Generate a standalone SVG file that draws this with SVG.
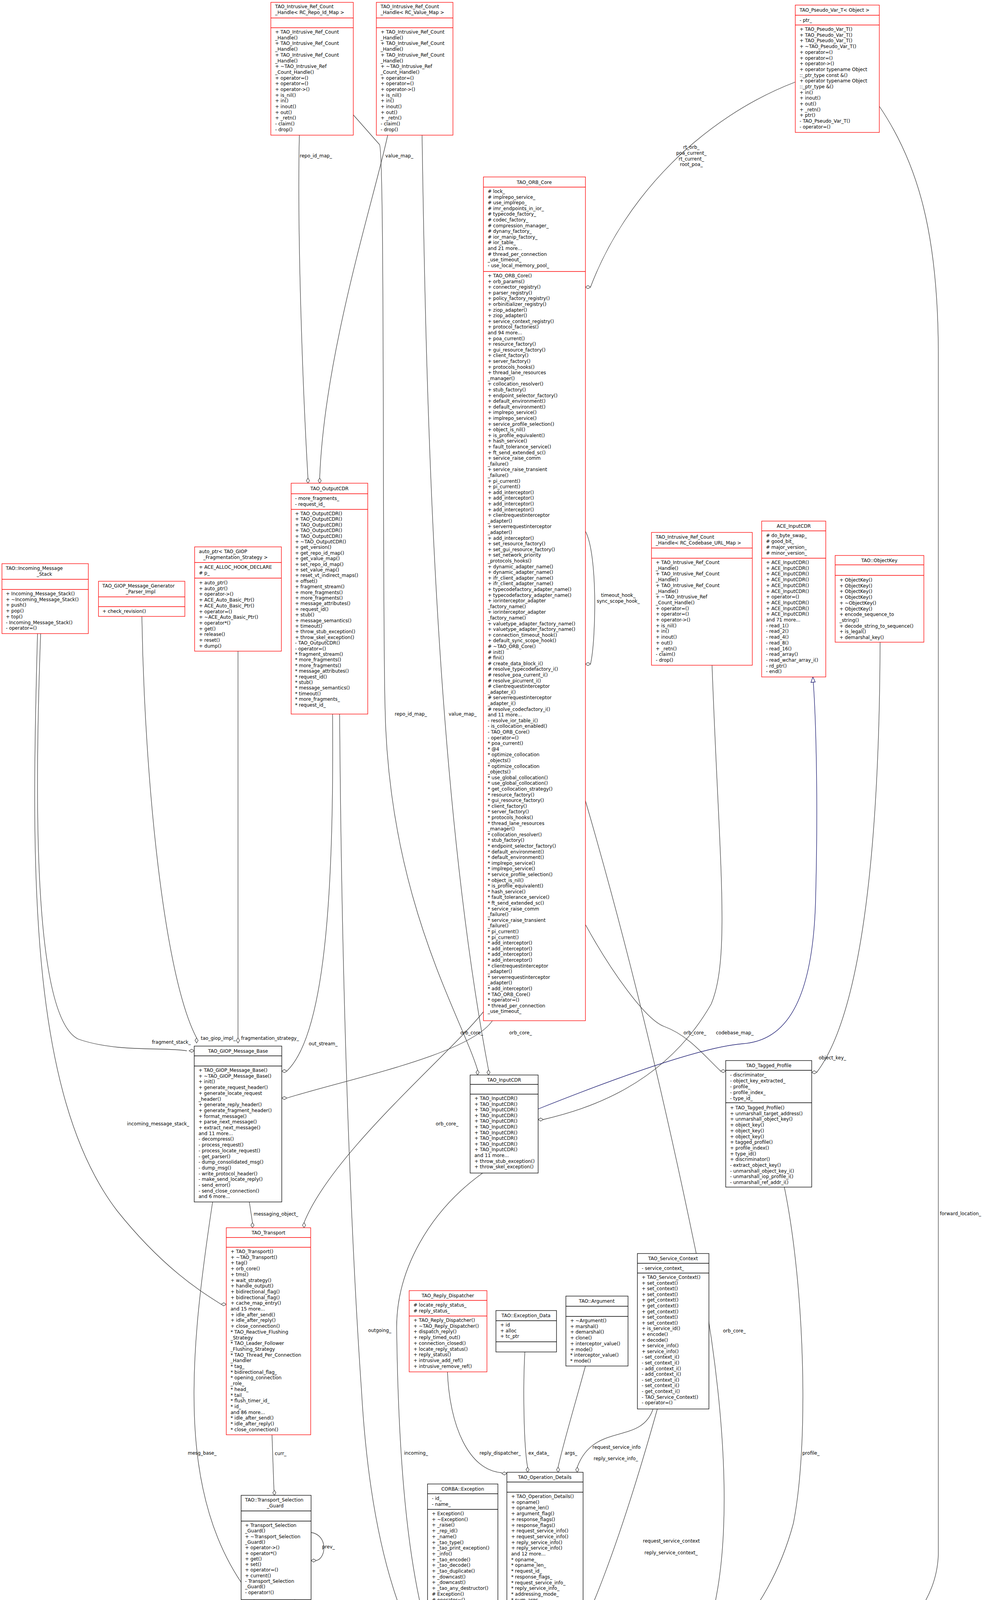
<svg xmlns="http://www.w3.org/2000/svg" width="2523" height="4757" viewBox="0 0 2523 4757">
<style>
text{font-family:"DejaVu Sans","Liberation Sans",sans-serif;font-size:12px;fill:#000}
.r{fill:#fff;stroke:#ff0000;stroke-width:1.3}
.b{fill:#fff;stroke:#000;stroke-width:1.3}
.g{fill:#bfbfbf;stroke:#000;stroke-width:1.3}
.sr{stroke:#ff0000;stroke-width:1.3}
.sb{stroke:#000;stroke-width:1.3}
.e{fill:none;stroke:#404040;stroke-width:1.3}
.d{fill:#fff;stroke:#404040;stroke-width:1.3}
.i{fill:none;stroke:#191970;stroke-width:1.3}
.m{text-anchor:middle}
.end{text-anchor:end}
</style>
<g id="edges">
<path class="e" d="M766,346 C760,600 775,1000 788,1224"/><polygon class="d" points="788,1237 784,1230.5 788,1224 792,1230.5"/>
<path class="e" d="M992,346 C960,500 830,900 818,1224"/><polygon class="d" points="818,1237 814,1230.5 818,1224 822,1230.5"/>
<path class="e" d="M904,294 L971,370 C985,390 978,1500 985,1800 C992,2300 1180,2600 1222,2739"/><polygon class="d" points="1222,2752 1218,2745.5 1222,2739 1226,2745.5"/>
<path class="e" d="M1080,346 C1090,1000 1110,2000 1250,2739"/><polygon class="d" points="1250,2752 1246,2745.5 1250,2739 1254,2745.5"/>
<path class="e" d="M104,1622 C90,2000 80,2600 200,2660 C300,2695 420,2680 478,2690"/><polygon class="d" points="497,2690 490.5,2686 484,2690 490.5,2694"/>
<path class="e" d="M363,1578 C370,2000 420,2500 503,2657"/><polygon class="d" points="503,2670 499,2663.5 503,2657 507,2663.5"/>
<path class="e" d="M609,1667 L609,2657"/><polygon class="d" points="609,2670 605,2663.5 609,2657 613,2663.5"/>
<path class="e" d="M851,1828 C855,2300 830,2650 734,2742"/><polygon class="d" points="721,2742 727.5,2738 734,2742 727.5,2746"/>
<path class="e" d="M1260,2613 C1200,2700 900,2760 734,2811"/><polygon class="d" points="721,2811 727.5,2807 734,2811 727.5,2815"/>
<path class="e" d="M638,3077 L646,3130"/><polygon class="d" points="646,3143 642,3136.5 646,3130 650,3136.5"/>
<path class="e" d="M1237,2590 C1150,2700 850,2950 778,3130"/><polygon class="d" points="778,3143 774,3136.5 778,3130 782,3136.5"/>
<path class="e" d="M544,3077 C480,3500 440,3900 700,4150 C900,4300 1100,4430 1166,4465"/><polygon class="d" points="1179,4465 1172.5,4461 1166,4465 1172.5,4469"/>
<path class="e" d="M96,1622 C80,2200 70,2800 300,3100 C420,3250 520,3310 566,3339"/><polygon class="d" points="579,3339 572.5,3335 566,3339 572.5,3343"/>
<path class="e" d="M1235,3003 C1100,3100 1014,3250 1015,3400 C1020,3800 1050,4150 1166,4375"/><polygon class="d" points="1179,4375 1172.5,4371 1166,4375 1172.5,4379"/>
<path class="e" d="M869,1828 C875,2600 900,3200 925,3560 C950,4000 1050,4250 1166,4342"/><polygon class="d" points="1179,4342 1172.5,4338 1166,4342 1172.5,4346"/>
<path class="e" d="M754,4095 C800,4200 1000,4350 1166,4439"/><polygon class="d" points="1179,4439 1172.5,4435 1166,4439 1172.5,4443"/>
<path class="e" d="M696,3673 L701,3815"/><polygon class="d" points="702,3828 698,3821.5 702,3815 706,3821.5"/>
<path class="e" d="M796,3923 C840,3930 835,3990 809,3995"/><polygon class="d" points="796,3995 802.5,3991 809,3995 802.5,3999"/>
<path class="e" d="M1203,4124 L1215,4207"/><polygon class="d" points="1216,4220 1212,4213.5 1216,4207 1220,4213.5"/>
<path class="e" d="M1351,4153 L1337,4207"/><polygon class="d" points="1337,4220 1333,4213.5 1337,4207 1341,4213.5"/>
<path class="e" d="M1145,3512 C1150,3650 1200,3765 1284,3770"/><polygon class="d" points="1297,3772 1290.5,3768 1284,3772 1290.5,3776"/>
<path class="e" d="M1343,3461 C1338,3550 1340,3700 1350,3756"/><polygon class="d" points="1350,3769 1346,3762.5 1350,3756 1354,3762.5"/>
<path class="e" d="M1498,3497 C1470,3600 1440,3700 1428,3756"/><polygon class="d" points="1428,3769 1424,3762.5 1428,3756 1432,3762.5"/>
<path class="e" d="M1671,3607 C1640,3700 1520,3640 1477,3756"/><polygon class="d" points="1477,3769 1473,3762.5 1477,3756 1481,3762.5"/>
<path class="e" d="M1682,3607 C1600,3900 1500,4200 1387,4352"/><polygon class="d" points="1374,4352 1380.5,4348 1387,4352 1380.5,4356"/>
<path class="e" d="M1498,2050 C1600,2400 1700,2800 1800,3300 C1870,3700 1900,4200 1700,4350 C1550,4420 1420,4450 1387,4452"/><polygon class="d" points="1374,4452 1380.5,4448 1387,4452 1380.5,4456"/>
<path class="e" d="M2007,3039 C2060,3300 2070,3700 2030,3900 C1950,4200 1700,4400 1387,4465"/><polygon class="d" points="1374,4465 1380.5,4461 1387,4465 1380.5,4469"/>
<path class="e" d="M2250,272 C2350,420 2400,600 2401,900 L2401,3980 C2390,4300 1800,4450 1387,4482"/><polygon class="d" points="1374,4482 1380.5,4478 1387,4482 1380.5,4486"/>
<path class="e" d="M2035,210 C1800,300 1600,500 1511,735"/><polygon class="d" points="1498,735 1504.5,731 1511,735 1504.5,739"/>
<path class="e" d="M1498,1360 C1530,1420 1525,1640 1511,1700"/><polygon class="d" points="1498,1700 1504.5,1696 1511,1700 1504.5,1704"/>
<path class="e" d="M1498,2367 C1560,2480 1650,2610 1700,2628 C1760,2650 1800,2700 1844,2742"/><polygon class="d" points="1857,2742 1850.5,2738 1844,2742 1850.5,2746"/>
<path class="e" d="M1822,1703 C1840,2200 1870,2450 1820,2570 C1700,2780 1500,2840 1390,2866"/><polygon class="d" points="1377,2866 1383.5,2862 1390,2866 1383.5,2870"/>
<path class="e" d="M2252,1644 C2250,2200 2200,2600 2090,2745"/><polygon class="d" points="2077,2745 2083.5,2741 2090,2745 2083.5,2749"/>
<path class="i" d="M1377,2839 C1600,2750 1800,2680 1900,2672 C1990,2665 2080,2600 2087,2300 C2095,2000 2085,1800 2081,1746"/><polygon fill="#fff" stroke="#191970" stroke-width="1.3" points="2080,1733 2075,1747 2086,1746"/>
<text x="767" y="403">repo_id_map_</text>
<text x="986" y="403">value_map_</text>
<text x="1010" y="1832">repo_id_map_</text>
<text x="1148" y="1832">value_map_</text>
<text class="end" x="488" y="2672">fragment_stack_</text>
<text class="end" x="603" y="2662">tao_giop_impl_</text>
<text x="617" y="2662">fragmentation_strategy_</text>
<text x="790" y="2676">out_stream_</text>
<text class="end" x="1236" y="2648">orb_core_</text>
<text x="1303" y="2648">orb_core_</text>
<text x="1749" y="2648">orb_core_</text>
<text x="1832" y="2648">codebase_map_</text>
<text x="2095" y="2712">object_key_</text>
<text class="m" x="1582" y="1528">timeout_hook_</text>
<text class="m" x="1582" y="1543">sync_scope_hook_</text>
<text class="m" x="1769" y="381">rt_orb_</text>
<text class="m" x="1769" y="396">poa_current_</text>
<text class="m" x="1769" y="411">rt_current_</text>
<text class="m" x="1769" y="425">root_poa_</text>
<text x="649" y="3112">messaging_object_</text>
<text class="end" x="484" y="2881">incoming_message_stack_</text>
<text x="1115" y="2881">orb_core_</text>
<text x="942" y="3410">outgoing_</text>
<text class="end" x="554" y="3724">mesg_base_</text>
<text x="1034" y="3724">incoming_</text>
<text x="703" y="3725">curr_</text>
<text x="824" y="3964">prev_</text>
<text x="820" y="4189">transport_</text>
<text x="1227" y="3724">reply_dispatcher_</text>
<text x="1352" y="3724">ex_data_</text>
<text x="1445" y="3724">args_</text>
<text x="1516" y="3709">request_service_info</text>
<text x="1519" y="3738">reply_service_info_</text>
<text x="1645" y="3949">request_service_context</text>
<text x="1649" y="3979">reply_service_context_</text>
<text x="1850" y="3411">orb_core_</text>
<text x="2053" y="3724">profile_</text>
<text x="2405" y="3111">forward_location_</text>
<text x="1217" y="4189">caught_exception_</text>
<text x="1348" y="4189">operation_details_</text>
</g>
<g id="repo">
<rect class="r" x="693" y="6" width="211" height="340"/><line class="sr" x1="693" y1="46" x2="904" y2="46"/><line class="sr" x1="693" y1="71" x2="904" y2="71"/>
<text x="704" y="21">TAO_Intrusive_Ref_Count<tspan x="704" dy="15">_Handle&lt; RC_Repo_Id_Map &gt;</tspan></text>
<text x="704" y="86">+ TAO_Intrusive_Ref_Count<tspan x="704" dy="14.7">_Handle()</tspan><tspan x="704" dy="14.7">+ TAO_Intrusive_Ref_Count</tspan><tspan x="704" dy="14.7">_Handle()</tspan><tspan x="704" dy="14.7">+ TAO_Intrusive_Ref_Count</tspan><tspan x="704" dy="14.7">_Handle()</tspan><tspan x="704" dy="14.7">+ ~TAO_Intrusive_Ref</tspan><tspan x="704" dy="14.7">_Count_Handle()</tspan><tspan x="704" dy="14.7">+ operator=()</tspan><tspan x="704" dy="14.7">+ operator=()</tspan><tspan x="704" dy="14.7">+ operator-&gt;()</tspan><tspan x="704" dy="14.7">+ is_nil()</tspan><tspan x="704" dy="14.7">+ in()</tspan><tspan x="704" dy="14.7">+ inout()</tspan><tspan x="704" dy="14.7">+ out()</tspan><tspan x="704" dy="14.7">+ _retn()</tspan><tspan x="704" dy="14.7">- claim()</tspan><tspan x="704" dy="14.7">- drop()</tspan></text>
</g>
<g id="value">
<rect class="r" x="963" y="6" width="196" height="340"/><line class="sr" x1="963" y1="46" x2="1159" y2="46"/><line class="sr" x1="963" y1="71" x2="1159" y2="71"/>
<text x="974" y="21">TAO_Intrusive_Ref_Count<tspan x="974" dy="15">_Handle&lt; RC_Value_Map &gt;</tspan></text>
<text x="974" y="86">+ TAO_Intrusive_Ref_Count<tspan x="974" dy="14.7">_Handle()</tspan><tspan x="974" dy="14.7">+ TAO_Intrusive_Ref_Count</tspan><tspan x="974" dy="14.7">_Handle()</tspan><tspan x="974" dy="14.7">+ TAO_Intrusive_Ref_Count</tspan><tspan x="974" dy="14.7">_Handle()</tspan><tspan x="974" dy="14.7">+ ~TAO_Intrusive_Ref</tspan><tspan x="974" dy="14.7">_Count_Handle()</tspan><tspan x="974" dy="14.7">+ operator=()</tspan><tspan x="974" dy="14.7">+ operator=()</tspan><tspan x="974" dy="14.7">+ operator-&gt;()</tspan><tspan x="974" dy="14.7">+ is_nil()</tspan><tspan x="974" dy="14.7">+ in()</tspan><tspan x="974" dy="14.7">+ inout()</tspan><tspan x="974" dy="14.7">+ out()</tspan><tspan x="974" dy="14.7">+ _retn()</tspan><tspan x="974" dy="14.7">- claim()</tspan><tspan x="974" dy="14.7">- drop()</tspan></text>
</g>
<g id="pseudo">
<rect class="r" x="2035" y="13" width="215" height="326"/><line class="sr" x1="2035" y1="39" x2="2250" y2="39"/><line class="sr" x1="2035" y1="64" x2="2250" y2="64"/>
<text x="2046" y="30">TAO_Pseudo_Var_T&lt; Object &gt;</text>
<text x="2046" y="56">- ptr_</text>
<text x="2046" y="79">+ TAO_Pseudo_Var_T()<tspan x="2046" dy="14.7">+ TAO_Pseudo_Var_T()</tspan><tspan x="2046" dy="14.7">+ TAO_Pseudo_Var_T()</tspan><tspan x="2046" dy="14.7">+ ~TAO_Pseudo_Var_T()</tspan><tspan x="2046" dy="14.7">+ operator=()</tspan><tspan x="2046" dy="14.7">+ operator=()</tspan><tspan x="2046" dy="14.7">+ operator-&gt;()</tspan><tspan x="2046" dy="14.7">+ operator typename Object</tspan><tspan x="2046" dy="14.7">::_ptr_type const &amp;()</tspan><tspan x="2046" dy="14.7">+ operator typename Object</tspan><tspan x="2046" dy="14.7">::_ptr_type &amp;()</tspan><tspan x="2046" dy="14.7">+ in()</tspan><tspan x="2046" dy="14.7">+ inout()</tspan><tspan x="2046" dy="14.7">+ out()</tspan><tspan x="2046" dy="14.7">+ _retn()</tspan><tspan x="2046" dy="14.7">+ ptr()</tspan><tspan x="2046" dy="14.7">- TAO_Pseudo_Var_T()</tspan><tspan x="2046" dy="14.7">- operator=()</tspan></text>
</g>
<g id="orbcore">
<rect class="r" x="1237" y="453" width="261" height="2160"/><line class="sr" x1="1237" y1="479" x2="1498" y2="479"/><line class="sr" x1="1237" y1="695" x2="1498" y2="695"/>
<text class="m" x="1367" y="471">TAO_ORB_Core</text>
<text x="1248" y="494"># lock_<tspan x="1248" dy="14.6"># implrepo_service_</tspan><tspan x="1248" dy="14.6"># use_implrepo_</tspan><tspan x="1248" dy="14.6"># imr_endpoints_in_ior_</tspan><tspan x="1248" dy="14.6"># typecode_factory_</tspan><tspan x="1248" dy="14.6"># codec_factory_</tspan><tspan x="1248" dy="14.6"># compression_manager_</tspan><tspan x="1248" dy="14.6"># dynany_factory_</tspan><tspan x="1248" dy="14.6"># ior_manip_factory_</tspan><tspan x="1248" dy="14.6"># ior_table_</tspan><tspan x="1248" dy="14.6">and 21 more...</tspan><tspan x="1248" dy="14.6"># thread_per_connection</tspan><tspan x="1248" dy="14.6">_use_timeout_</tspan><tspan x="1248" dy="14.6">- use_local_memory_pool_</tspan></text>
<text x="1248" y="710">+ TAO_ORB_Core()<tspan x="1248" dy="14.6">+ orb_params()</tspan><tspan x="1248" dy="14.6">+ connector_registry()</tspan><tspan x="1248" dy="14.6">+ parser_registry()</tspan><tspan x="1248" dy="14.6">+ policy_factory_registry()</tspan><tspan x="1248" dy="14.6">+ orbinitializer_registry()</tspan><tspan x="1248" dy="14.6">+ ziop_adapter()</tspan><tspan x="1248" dy="14.6">+ ziop_adapter()</tspan><tspan x="1248" dy="14.6">+ service_context_registry()</tspan><tspan x="1248" dy="14.6">+ protocol_factories()</tspan><tspan x="1248" dy="14.6">and 94 more...</tspan><tspan x="1248" dy="14.6">+ poa_current()</tspan><tspan x="1248" dy="14.6">+ resource_factory()</tspan><tspan x="1248" dy="14.6">+ gui_resource_factory()</tspan><tspan x="1248" dy="14.6">+ client_factory()</tspan><tspan x="1248" dy="14.6">+ server_factory()</tspan><tspan x="1248" dy="14.6">+ protocols_hooks()</tspan><tspan x="1248" dy="14.6">+ thread_lane_resources</tspan><tspan x="1248" dy="14.6">_manager()</tspan><tspan x="1248" dy="14.6">+ collocation_resolver()</tspan><tspan x="1248" dy="14.6">+ stub_factory()</tspan><tspan x="1248" dy="14.6">+ endpoint_selector_factory()</tspan><tspan x="1248" dy="14.6">+ default_environment()</tspan><tspan x="1248" dy="14.6">+ default_environment()</tspan><tspan x="1248" dy="14.6">+ implrepo_service()</tspan><tspan x="1248" dy="14.6">+ implrepo_service()</tspan><tspan x="1248" dy="14.6">+ service_profile_selection()</tspan><tspan x="1248" dy="14.6">+ object_is_nil()</tspan><tspan x="1248" dy="14.6">+ is_profile_equivalent()</tspan><tspan x="1248" dy="14.6">+ hash_service()</tspan><tspan x="1248" dy="14.6">+ fault_tolerance_service()</tspan><tspan x="1248" dy="14.6">+ ft_send_extended_sc()</tspan><tspan x="1248" dy="14.6">+ service_raise_comm</tspan><tspan x="1248" dy="14.6">_failure()</tspan><tspan x="1248" dy="14.6">+ service_raise_transient</tspan><tspan x="1248" dy="14.6">_failure()</tspan><tspan x="1248" dy="14.6">+ pi_current()</tspan><tspan x="1248" dy="14.6">+ pi_current()</tspan><tspan x="1248" dy="14.6">+ add_interceptor()</tspan><tspan x="1248" dy="14.6">+ add_interceptor()</tspan><tspan x="1248" dy="14.6">+ add_interceptor()</tspan><tspan x="1248" dy="14.6">+ add_interceptor()</tspan><tspan x="1248" dy="14.6">+ clientrequestinterceptor</tspan><tspan x="1248" dy="14.6">_adapter()</tspan><tspan x="1248" dy="14.6">+ serverrequestinterceptor</tspan><tspan x="1248" dy="14.6">_adapter()</tspan><tspan x="1248" dy="14.6">+ add_interceptor()</tspan><tspan x="1248" dy="14.6">+ set_resource_factory()</tspan><tspan x="1248" dy="14.6">+ set_gui_resource_factory()</tspan><tspan x="1248" dy="14.6">+ set_network_priority</tspan><tspan x="1248" dy="14.6">_protocols_hooks()</tspan><tspan x="1248" dy="14.6">+ dynamic_adapter_name()</tspan><tspan x="1248" dy="14.6">+ dynamic_adapter_name()</tspan><tspan x="1248" dy="14.6">+ ifr_client_adapter_name()</tspan><tspan x="1248" dy="14.6">+ ifr_client_adapter_name()</tspan><tspan x="1248" dy="14.6">+ typecodefactory_adapter_name()</tspan><tspan x="1248" dy="14.6">+ typecodefactory_adapter_name()</tspan><tspan x="1248" dy="14.6">+ iorinterceptor_adapter</tspan><tspan x="1248" dy="14.6">_factory_name()</tspan><tspan x="1248" dy="14.6">+ iorinterceptor_adapter</tspan><tspan x="1248" dy="14.6">_factory_name()</tspan><tspan x="1248" dy="14.6">+ valuetype_adapter_factory_name()</tspan><tspan x="1248" dy="14.6">+ valuetype_adapter_factory_name()</tspan><tspan x="1248" dy="14.6">+ connection_timeout_hook()</tspan><tspan x="1248" dy="14.6">+ default_sync_scope_hook()</tspan><tspan x="1248" dy="14.6"># ~TAO_ORB_Core()</tspan><tspan x="1248" dy="14.6"># init()</tspan><tspan x="1248" dy="14.6"># fini()</tspan><tspan x="1248" dy="14.6"># create_data_block_i()</tspan><tspan x="1248" dy="14.6"># resolve_typecodefactory_i()</tspan><tspan x="1248" dy="14.6"># resolve_poa_current_i()</tspan><tspan x="1248" dy="14.6"># resolve_picurrent_i()</tspan><tspan x="1248" dy="14.6"># clientrequestinterceptor</tspan><tspan x="1248" dy="14.6">_adapter_i()</tspan><tspan x="1248" dy="14.6"># serverrequestinterceptor</tspan><tspan x="1248" dy="14.6">_adapter_i()</tspan><tspan x="1248" dy="14.6"># resolve_codecfactory_i()</tspan><tspan x="1248" dy="14.6">and 11 more...</tspan><tspan x="1248" dy="14.6">- resolve_ior_table_i()</tspan><tspan x="1248" dy="14.6">- is_collocation_enabled()</tspan><tspan x="1248" dy="14.6">- TAO_ORB_Core()</tspan><tspan x="1248" dy="14.6">- operator=()</tspan><tspan x="1248" dy="14.6">* poa_current()</tspan><tspan x="1248" dy="14.6">* @4</tspan><tspan x="1248" dy="14.6">* optimize_collocation</tspan><tspan x="1248" dy="14.6">_objects()</tspan><tspan x="1248" dy="14.6">* optimize_collocation</tspan><tspan x="1248" dy="14.6">_objects()</tspan><tspan x="1248" dy="14.6">* use_global_collocation()</tspan><tspan x="1248" dy="14.6">* use_global_collocation()</tspan><tspan x="1248" dy="14.6">* get_collocation_strategy()</tspan><tspan x="1248" dy="14.6">* resource_factory()</tspan><tspan x="1248" dy="14.6">* gui_resource_factory()</tspan><tspan x="1248" dy="14.6">* client_factory()</tspan><tspan x="1248" dy="14.6">* server_factory()</tspan><tspan x="1248" dy="14.6">* protocols_hooks()</tspan><tspan x="1248" dy="14.6">* thread_lane_resources</tspan><tspan x="1248" dy="14.6">_manager()</tspan><tspan x="1248" dy="14.6">* collocation_resolver()</tspan><tspan x="1248" dy="14.6">* stub_factory()</tspan><tspan x="1248" dy="14.6">* endpoint_selector_factory()</tspan><tspan x="1248" dy="14.6">* default_environment()</tspan><tspan x="1248" dy="14.6">* default_environment()</tspan><tspan x="1248" dy="14.6">* implrepo_service()</tspan><tspan x="1248" dy="14.6">* implrepo_service()</tspan><tspan x="1248" dy="14.6">* service_profile_selection()</tspan><tspan x="1248" dy="14.6">* object_is_nil()</tspan><tspan x="1248" dy="14.6">* is_profile_equivalent()</tspan><tspan x="1248" dy="14.6">* hash_service()</tspan><tspan x="1248" dy="14.6">* fault_tolerance_service()</tspan><tspan x="1248" dy="14.6">* ft_send_extended_sc()</tspan><tspan x="1248" dy="14.6">* service_raise_comm</tspan><tspan x="1248" dy="14.6">_failure()</tspan><tspan x="1248" dy="14.6">* service_raise_transient</tspan><tspan x="1248" dy="14.6">_failure()</tspan><tspan x="1248" dy="14.6">* pi_current()</tspan><tspan x="1248" dy="14.6">* pi_current()</tspan><tspan x="1248" dy="14.6">* add_interceptor()</tspan><tspan x="1248" dy="14.6">* add_interceptor()</tspan><tspan x="1248" dy="14.6">* add_interceptor()</tspan><tspan x="1248" dy="14.6">* add_interceptor()</tspan><tspan x="1248" dy="14.6">* clientrequestinterceptor</tspan><tspan x="1248" dy="14.6">_adapter()</tspan><tspan x="1248" dy="14.6">* serverrequestinterceptor</tspan><tspan x="1248" dy="14.6">_adapter()</tspan><tspan x="1248" dy="14.6">* add_interceptor()</tspan><tspan x="1248" dy="14.6">* TAO_ORB_Core()</tspan><tspan x="1248" dy="14.6">* operator=()</tspan><tspan x="1248" dy="14.6">* thread_per_connection</tspan><tspan x="1248" dy="14.6">_use_timeout_</tspan></text>
</g>
<g id="incomingstack">
<rect class="r" x="5" y="1443" width="221" height="179"/><line class="sr" x1="5" y1="1483" x2="226" y2="1483"/><line class="sr" x1="5" y1="1509" x2="226" y2="1509"/>
<text x="15" y="1459">TAO::Incoming_Message<tspan x="94" dy="15">_Stack</tspan></text>
<text x="15" y="1524">+ Incoming_Message_Stack()<tspan x="15" dy="14.7">+ ~Incoming_Message_Stack()</tspan><tspan x="15" dy="14.7">+ push()</tspan><tspan x="15" dy="14.7">+ pop()</tspan><tspan x="15" dy="14.7">+ top()</tspan><tspan x="15" dy="14.7">- Incoming_Message_Stack()</tspan><tspan x="15" dy="14.7">- operator=()</tspan></text>
</g>
<g id="parserimpl">
<rect class="r" x="252" y="1488" width="221" height="90"/><line class="sr" x1="252" y1="1528" x2="473" y2="1528"/><line class="sr" x1="252" y1="1553" x2="473" y2="1553"/>
<text x="262" y="1504">TAO_GIOP_Message_Generator<tspan x="322" dy="15">_Parser_Impl</tspan></text>
<text x="262" y="1569">+ check_revision()</text>
</g>
<g id="autoptr">
<rect class="r" x="498" y="1400" width="222" height="267"/><line class="sr" x1="498" y1="1440" x2="720" y2="1440"/><line class="sr" x1="498" y1="1480" x2="720" y2="1480"/>
<text x="509" y="1416">auto_ptr&lt; TAO_GIOP<tspan x="520" dy="15">_Fragmentation_Strategy &gt;</tspan></text>
<text x="509" y="1456">+ ACE_ALLOC_HOOK_DECLARE<tspan x="509" dy="14.7"># p_</tspan></text>
<text x="509" y="1496">+ auto_ptr()<tspan x="509" dy="14.7">+ auto_ptr()</tspan><tspan x="509" dy="14.7">+ operator-&gt;()</tspan><tspan x="509" dy="14.7">+ ACE_Auto_Basic_Ptr()</tspan><tspan x="509" dy="14.7">+ ACE_Auto_Basic_Ptr()</tspan><tspan x="509" dy="14.7">+ operator=()</tspan><tspan x="509" dy="14.7">+ ~ACE_Auto_Basic_Ptr()</tspan><tspan x="509" dy="14.7">+ operator*()</tspan><tspan x="509" dy="14.7">+ get()</tspan><tspan x="509" dy="14.7">+ release()</tspan><tspan x="509" dy="14.7">+ reset()</tspan><tspan x="509" dy="14.7">+ dump()</tspan></text>
</g>
<g id="outputcdr">
<rect class="r" x="745" y="1237" width="196" height="591"/><line class="sr" x1="745" y1="1264" x2="941" y2="1264"/><line class="sr" x1="745" y1="1304" x2="941" y2="1304"/>
<text class="m" x="843" y="1255">TAO_OutputCDR</text>
<text x="755" y="1280">- more_fragments_<tspan x="755" dy="14.6">- request_id_</tspan></text>
<text x="755" y="1319">+ TAO_OutputCDR()<tspan x="755" dy="14.4">+ TAO_OutputCDR()</tspan><tspan x="755" dy="14.4">+ TAO_OutputCDR()</tspan><tspan x="755" dy="14.4">+ TAO_OutputCDR()</tspan><tspan x="755" dy="14.4">+ TAO_OutputCDR()</tspan><tspan x="755" dy="14.4">+ ~TAO_OutputCDR()</tspan><tspan x="755" dy="14.4">+ get_version()</tspan><tspan x="755" dy="14.4">+ get_repo_id_map()</tspan><tspan x="755" dy="14.4">+ get_value_map()</tspan><tspan x="755" dy="14.4">+ set_repo_id_map()</tspan><tspan x="755" dy="14.4">+ set_value_map()</tspan><tspan x="755" dy="14.4">+ reset_vt_indirect_maps()</tspan><tspan x="755" dy="14.4">+ offset()</tspan><tspan x="755" dy="14.4">+ fragment_stream()</tspan><tspan x="755" dy="14.4">+ more_fragments()</tspan><tspan x="755" dy="14.4">+ more_fragments()</tspan><tspan x="755" dy="14.4">+ message_attributes()</tspan><tspan x="755" dy="14.4">+ request_id()</tspan><tspan x="755" dy="14.4">+ stub()</tspan><tspan x="755" dy="14.4">+ message_semantics()</tspan><tspan x="755" dy="14.4">+ timeout()</tspan><tspan x="755" dy="14.4">+ throw_stub_exception()</tspan><tspan x="755" dy="14.4">+ throw_skel_exception()</tspan><tspan x="755" dy="14.4">- TAO_OutputCDR()</tspan><tspan x="755" dy="14.4">- operator=()</tspan><tspan x="755" dy="14.4">* fragment_stream()</tspan><tspan x="755" dy="14.4">* more_fragments()</tspan><tspan x="755" dy="14.4">* more_fragments()</tspan><tspan x="755" dy="14.4">* message_attributes()</tspan><tspan x="755" dy="14.4">* request_id()</tspan><tspan x="755" dy="14.4">* stub()</tspan><tspan x="755" dy="14.4">* message_semantics()</tspan><tspan x="755" dy="14.4">* timeout()</tspan><tspan x="755" dy="14.4">* more_fragments_</tspan><tspan x="755" dy="14.4">* request_id_</tspan></text>
</g>
<g id="codebase">
<rect class="r" x="1667" y="1363" width="258" height="340"/><line class="sr" x1="1667" y1="1403" x2="1925" y2="1403"/><line class="sr" x1="1667" y1="1429" x2="1925" y2="1429"/>
<text x="1678" y="1379">TAO_Intrusive_Ref_Count<tspan x="1678" dy="15">_Handle&lt; RC_Codebase_URL_Map &gt;</tspan></text>
<text x="1678" y="1444">+ TAO_Intrusive_Ref_Count<tspan x="1678" dy="14.7">_Handle()</tspan><tspan x="1678" dy="14.7">+ TAO_Intrusive_Ref_Count</tspan><tspan x="1678" dy="14.7">_Handle()</tspan><tspan x="1678" dy="14.7">+ TAO_Intrusive_Ref_Count</tspan><tspan x="1678" dy="14.7">_Handle()</tspan><tspan x="1678" dy="14.7">+ ~TAO_Intrusive_Ref</tspan><tspan x="1678" dy="14.7">_Count_Handle()</tspan><tspan x="1678" dy="14.7">+ operator=()</tspan><tspan x="1678" dy="14.7">+ operator=()</tspan><tspan x="1678" dy="14.7">+ operator-&gt;()</tspan><tspan x="1678" dy="14.7">+ is_nil()</tspan><tspan x="1678" dy="14.7">+ in()</tspan><tspan x="1678" dy="14.7">+ inout()</tspan><tspan x="1678" dy="14.7">+ out()</tspan><tspan x="1678" dy="14.7">+ _retn()</tspan><tspan x="1678" dy="14.7">- claim()</tspan><tspan x="1678" dy="14.7">- drop()</tspan></text>
</g>
<g id="aceinputcdr">
<rect class="r" x="1949" y="1334" width="164" height="399"/><line class="sr" x1="1949" y1="1359" x2="2113" y2="1359"/><line class="sr" x1="1949" y1="1429" x2="2113" y2="1429"/>
<text class="m" x="2031" y="1351">ACE_InputCDR</text>
<text x="1960" y="1375"># do_byte_swap_<tspan x="1960" dy="15"># good_bit_</tspan><tspan x="1960" dy="15"># major_version_</tspan><tspan x="1960" dy="15"># minor_version_</tspan></text>
<text x="1960" y="1444">+ ACE_InputCDR()<tspan x="1960" dy="14.7">+ ACE_InputCDR()</tspan><tspan x="1960" dy="14.7">+ ACE_InputCDR()</tspan><tspan x="1960" dy="14.7">+ ACE_InputCDR()</tspan><tspan x="1960" dy="14.7">+ ACE_InputCDR()</tspan><tspan x="1960" dy="14.7">+ ACE_InputCDR()</tspan><tspan x="1960" dy="14.7">+ operator=()</tspan><tspan x="1960" dy="14.7">+ ACE_InputCDR()</tspan><tspan x="1960" dy="14.7">+ ACE_InputCDR()</tspan><tspan x="1960" dy="14.7">+ ACE_InputCDR()</tspan><tspan x="1960" dy="14.7">and 71 more...</tspan><tspan x="1960" dy="14.7">- read_1()</tspan><tspan x="1960" dy="14.7">- read_2()</tspan><tspan x="1960" dy="14.7">- read_4()</tspan><tspan x="1960" dy="14.7">- read_8()</tspan><tspan x="1960" dy="14.7">- read_16()</tspan><tspan x="1960" dy="14.7">- read_array()</tspan><tspan x="1960" dy="14.7">- read_wchar_array_i()</tspan><tspan x="1960" dy="14.7">- rd_ptr()</tspan><tspan x="1960" dy="14.7">- end()</tspan></text>
</g>
<g id="objectkey">
<rect class="r" x="2137" y="1422" width="227" height="222"/><line class="sr" x1="2137" y1="1446" x2="2364" y2="1446"/><line class="sr" x1="2137" y1="1473" x2="2364" y2="1473"/>
<text class="m" x="2250" y="1439">TAO::ObjectKey</text>
<text x="2148" y="1489">+ ObjectKey()<tspan x="2148" dy="14.7">+ ObjectKey()</tspan><tspan x="2148" dy="14.7">+ ObjectKey()</tspan><tspan x="2148" dy="14.7">+ ObjectKey()</tspan><tspan x="2148" dy="14.7">+ ~ObjectKey()</tspan><tspan x="2148" dy="14.7">+ ObjectKey()</tspan><tspan x="2148" dy="14.7">+ encode_sequence_to</tspan><tspan x="2148" dy="14.7">_string()</tspan><tspan x="2148" dy="14.7">+ decode_string_to_sequence()</tspan><tspan x="2148" dy="14.7">+ is_legal()</tspan><tspan x="2148" dy="14.7">+ demarshal_key()</tspan></text>
</g>
<g id="giopbase">
<rect class="b" x="497" y="2678" width="224" height="399"/><line class="sb" x1="497" y1="2703" x2="721" y2="2703"/><line class="sb" x1="497" y1="2729" x2="721" y2="2729"/>
<text class="m" x="609" y="2695">TAO_GIOP_Message_Base</text>
<text x="508" y="2744">+ TAO_GIOP_Message_Base()<tspan x="508" dy="14.7">+ ~TAO_GIOP_Message_Base()</tspan><tspan x="508" dy="14.7">+ init()</tspan><tspan x="508" dy="14.7">+ generate_request_header()</tspan><tspan x="508" dy="14.7">+ generate_locate_request</tspan><tspan x="508" dy="14.7">_header()</tspan><tspan x="508" dy="14.7">+ generate_reply_header()</tspan><tspan x="508" dy="14.7">+ generate_fragment_header()</tspan><tspan x="508" dy="14.7">+ format_message()</tspan><tspan x="508" dy="14.7">+ parse_next_message()</tspan><tspan x="508" dy="14.7">+ extract_next_message()</tspan><tspan x="508" dy="14.7">and 11 more...</tspan><tspan x="508" dy="14.7">- decompress()</tspan><tspan x="508" dy="14.7">- process_request()</tspan><tspan x="508" dy="14.7">- process_locate_request()</tspan><tspan x="508" dy="14.7">- get_parser()</tspan><tspan x="508" dy="14.7">- dump_consolidated_msg()</tspan><tspan x="508" dy="14.7">- dump_msg()</tspan><tspan x="508" dy="14.7">- write_protocol_header()</tspan><tspan x="508" dy="14.7">- make_send_locate_reply()</tspan><tspan x="508" dy="14.7">- send_error()</tspan><tspan x="508" dy="14.7">- send_close_connection()</tspan><tspan x="508" dy="14.7">and 6 more...</tspan></text>
</g>
<g id="inputcdr">
<rect class="b" x="1203" y="2752" width="174" height="251"/><line class="sb" x1="1203" y1="2776" x2="1377" y2="2776"/><line class="sb" x1="1203" y1="2801" x2="1377" y2="2801"/>
<text class="m" x="1290" y="2769">TAO_InputCDR</text>
<text x="1214" y="2816">+ TAO_InputCDR()<tspan x="1214" dy="14.6">+ TAO_InputCDR()</tspan><tspan x="1214" dy="14.6">+ TAO_InputCDR()</tspan><tspan x="1214" dy="14.6">+ TAO_InputCDR()</tspan><tspan x="1214" dy="14.6">+ TAO_InputCDR()</tspan><tspan x="1214" dy="14.6">+ TAO_InputCDR()</tspan><tspan x="1214" dy="14.6">+ TAO_InputCDR()</tspan><tspan x="1214" dy="14.6">+ TAO_InputCDR()</tspan><tspan x="1214" dy="14.6">+ TAO_InputCDR()</tspan><tspan x="1214" dy="14.6">+ TAO_InputCDR()</tspan><tspan x="1214" dy="14.6">and 11 more...</tspan><tspan x="1214" dy="14.6">+ throw_stub_exception()</tspan><tspan x="1214" dy="14.6">+ throw_skel_exception()</tspan></text>
</g>
<g id="tagged">
<rect class="b" x="1857" y="2715" width="220" height="324"/><line class="sb" x1="1857" y1="2740" x2="2077" y2="2740"/><line class="sb" x1="1857" y1="2823" x2="2077" y2="2823"/>
<text class="m" x="1967" y="2732">TAO_Tagged_Profile</text>
<text x="1868" y="2756">- discriminator_<tspan x="1868" dy="15">- object_key_extracted_</tspan><tspan x="1868" dy="15">- profile_</tspan><tspan x="1868" dy="15">- profile_index_</tspan><tspan x="1868" dy="15">- type_id_</tspan></text>
<text x="1868" y="2840">+ TAO_Tagged_Profile()<tspan x="1868" dy="14.7">+ unmarshall_target_address()</tspan><tspan x="1868" dy="14.7">+ unmarshall_object_key()</tspan><tspan x="1868" dy="14.7">+ object_key()</tspan><tspan x="1868" dy="14.7">+ object_key()</tspan><tspan x="1868" dy="14.7">+ object_key()</tspan><tspan x="1868" dy="14.7">+ tagged_profile()</tspan><tspan x="1868" dy="14.7">+ profile_index()</tspan><tspan x="1868" dy="14.7">+ type_id()</tspan><tspan x="1868" dy="14.7">+ discriminator()</tspan><tspan x="1868" dy="14.7">- extract_object_key()</tspan><tspan x="1868" dy="14.7">- unmarshall_object_key_i()</tspan><tspan x="1868" dy="14.7">- unmarshall_iop_profile_i()</tspan><tspan x="1868" dy="14.7">- unmarshall_ref_addr_i()</tspan></text>
</g>
<g id="transport">
<rect class="r" x="579" y="3143" width="216" height="530"/><line class="sr" x1="579" y1="3168" x2="795" y2="3168"/><line class="sr" x1="579" y1="3193" x2="795" y2="3193"/>
<text class="m" x="687" y="3160">TAO_Transport</text>
<text x="590" y="3208">+ TAO_Transport()<tspan x="590" dy="14.7">+ ~TAO_Transport()</tspan><tspan x="590" dy="14.7">+ tag()</tspan><tspan x="590" dy="14.7">+ orb_core()</tspan><tspan x="590" dy="14.7">+ tms()</tspan><tspan x="590" dy="14.7">+ wait_strategy()</tspan><tspan x="590" dy="14.7">+ handle_output()</tspan><tspan x="590" dy="14.7">+ bidirectional_flag()</tspan><tspan x="590" dy="14.7">+ bidirectional_flag()</tspan><tspan x="590" dy="14.7">+ cache_map_entry()</tspan><tspan x="590" dy="14.7">and 15 more...</tspan><tspan x="590" dy="14.7">+ idle_after_send()</tspan><tspan x="590" dy="14.7">+ idle_after_reply()</tspan><tspan x="590" dy="14.7">+ close_connection()</tspan><tspan x="590" dy="14.7">* TAO_Reactive_Flushing</tspan><tspan x="590" dy="14.7">_Strategy</tspan><tspan x="590" dy="14.7">* TAO_Leader_Follower</tspan><tspan x="590" dy="14.7">_Flushing_Strategy</tspan><tspan x="590" dy="14.7">* TAO_Thread_Per_Connection</tspan><tspan x="590" dy="14.7">_Handler</tspan><tspan x="590" dy="14.7">* tag_</tspan><tspan x="590" dy="14.7">* bidirectional_flag_</tspan><tspan x="590" dy="14.7">* opening_connection</tspan><tspan x="590" dy="14.7">_role_</tspan><tspan x="590" dy="14.7">* head_</tspan><tspan x="590" dy="14.7">* tail_</tspan><tspan x="590" dy="14.7">* flush_timer_id_</tspan><tspan x="590" dy="14.7">* id_</tspan><tspan x="590" dy="14.7">and 86 more...</tspan><tspan x="590" dy="14.7">* idle_after_send()</tspan><tspan x="590" dy="14.7">* idle_after_reply()</tspan><tspan x="590" dy="14.7">* close_connection()</tspan></text>
</g>
<g id="guard">
<rect class="b" x="617" y="3828" width="179" height="267"/><line class="sb" x1="617" y1="3868" x2="796" y2="3868"/><line class="sb" x1="617" y1="3894" x2="796" y2="3894"/>
<text x="627" y="3844">TAO::Transport_Selection<tspan x="683" dy="15">_Guard</tspan></text>
<text x="627" y="3909">+ Transport_Selection<tspan x="627" dy="14.3">_Guard()</tspan><tspan x="627" dy="14.3">+ ~Transport_Selection</tspan><tspan x="627" dy="14.3">_Guard()</tspan><tspan x="627" dy="14.3">+ operator-&gt;()</tspan><tspan x="627" dy="14.3">+ operator*()</tspan><tspan x="627" dy="14.3">+ get()</tspan><tspan x="627" dy="14.3">+ set()</tspan><tspan x="627" dy="14.3">+ operator=()</tspan><tspan x="627" dy="14.3">+ current()</tspan><tspan x="627" dy="14.3">- Transport_Selection</tspan><tspan x="627" dy="14.3">_Guard()</tspan><tspan x="627" dy="14.3">- operator!()</tspan></text>
</g>
<g id="replydispatcher">
<rect class="r" x="1047" y="3304" width="199" height="208"/><line class="sr" x1="1047" y1="3329" x2="1246" y2="3329"/><line class="sr" x1="1047" y1="3369" x2="1246" y2="3369"/>
<text class="m" x="1146" y="3321">TAO_Reply_Dispatcher</text>
<text x="1058" y="3345"># locate_reply_status_<tspan x="1058" dy="15"># reply_status_</tspan></text>
<text x="1058" y="3384">+ TAO_Reply_Dispatcher()<tspan x="1058" dy="14.7">+ ~TAO_Reply_Dispatcher()</tspan><tspan x="1058" dy="14.7">+ dispatch_reply()</tspan><tspan x="1058" dy="14.7">+ reply_timed_out()</tspan><tspan x="1058" dy="14.7">+ connection_closed()</tspan><tspan x="1058" dy="14.7">+ locate_reply_status()</tspan><tspan x="1058" dy="14.7">+ reply_status()</tspan><tspan x="1058" dy="14.7">+ intrusive_add_ref()</tspan><tspan x="1058" dy="14.7">+ intrusive_remove_ref()</tspan></text>
</g>
<g id="exceptiondata">
<rect class="b" x="1269" y="3355" width="155" height="106"/><line class="sb" x1="1269" y1="3381" x2="1424" y2="3381"/><line class="sb" x1="1269" y1="3435" x2="1424" y2="3435"/>
<text class="m" x="1346" y="3372">TAO::Exception_Data</text>
<text x="1280" y="3396">+ id<tspan x="1280" dy="14.7">+ alloc</tspan><tspan x="1280" dy="14.7">+ tc_ptr</tspan></text>
</g>
<g id="argument">
<rect class="b" x="1448" y="3318" width="159" height="179"/><line class="sb" x1="1448" y1="3344" x2="1607" y2="3344"/><line class="sb" x1="1448" y1="3370" x2="1607" y2="3370"/>
<text class="m" x="1527" y="3335">TAO::Argument</text>
<text x="1459" y="3385">+ ~Argument()<tspan x="1459" dy="14.7">+ marshal()</tspan><tspan x="1459" dy="14.7">+ demarshal()</tspan><tspan x="1459" dy="14.7">+ clone()</tspan><tspan x="1459" dy="14.7">+ interceptor_value()</tspan><tspan x="1459" dy="14.7">+ mode()</tspan><tspan x="1459" dy="14.7">* interceptor_value()</tspan><tspan x="1459" dy="14.7">* mode()</tspan></text>
</g>
<g id="servicecontext">
<rect class="b" x="1631" y="3209" width="183" height="398"/><line class="sb" x1="1631" y1="3234" x2="1814" y2="3234"/><line class="sb" x1="1631" y1="3259" x2="1814" y2="3259"/>
<text class="m" x="1722" y="3226">TAO_Service_Context</text>
<text x="1642" y="3251">- service_context_</text>
<text x="1642" y="3274">+ TAO_Service_Context()<tspan x="1642" dy="14.6">+ set_context()</tspan><tspan x="1642" dy="14.6">+ set_context()</tspan><tspan x="1642" dy="14.6">+ set_context()</tspan><tspan x="1642" dy="14.6">+ get_context()</tspan><tspan x="1642" dy="14.6">+ get_context()</tspan><tspan x="1642" dy="14.6">+ get_context()</tspan><tspan x="1642" dy="14.6">+ set_context()</tspan><tspan x="1642" dy="14.6">+ set_context()</tspan><tspan x="1642" dy="14.6">+ is_service_id()</tspan><tspan x="1642" dy="14.6">+ encode()</tspan><tspan x="1642" dy="14.6">+ decode()</tspan><tspan x="1642" dy="14.6">+ service_info()</tspan><tspan x="1642" dy="14.6">+ service_info()</tspan><tspan x="1642" dy="14.6">- set_context_i()</tspan><tspan x="1642" dy="14.6">- set_context_i()</tspan><tspan x="1642" dy="14.6">- add_context_i()</tspan><tspan x="1642" dy="14.6">- add_context_i()</tspan><tspan x="1642" dy="14.6">- set_context_i()</tspan><tspan x="1642" dy="14.6">- set_context_i()</tspan><tspan x="1642" dy="14.6">- get_context_i()</tspan><tspan x="1642" dy="14.6">- TAO_Service_Context()</tspan><tspan x="1642" dy="14.6">- operator=()</tspan></text>
</g>
<g id="corbaexception">
<rect class="b" x="1094" y="3799" width="180" height="325"/><line class="sb" x1="1094" y1="3824" x2="1274" y2="3824"/><line class="sb" x1="1094" y1="3864" x2="1274" y2="3864"/>
<text class="m" x="1184" y="3816">CORBA::Exception</text>
<text x="1105" y="3840">- id_<tspan x="1105" dy="15">- name_</tspan></text>
<text x="1105" y="3879">+ Exception()<tspan x="1105" dy="14.7">+ ~Exception()</tspan><tspan x="1105" dy="14.7">+ _raise()</tspan><tspan x="1105" dy="14.7">+ _rep_id()</tspan><tspan x="1105" dy="14.7">+ _name()</tspan><tspan x="1105" dy="14.7">+ _tao_type()</tspan><tspan x="1105" dy="14.7">+ _tao_print_exception()</tspan><tspan x="1105" dy="14.7">+ _info()</tspan><tspan x="1105" dy="14.7">+ _tao_encode()</tspan><tspan x="1105" dy="14.7">+ _tao_decode()</tspan><tspan x="1105" dy="14.7">+ _tao_duplicate()</tspan><tspan x="1105" dy="14.7">+ _downcast()</tspan><tspan x="1105" dy="14.7">+ _downcast()</tspan><tspan x="1105" dy="14.7">+ _tao_any_destructor()</tspan><tspan x="1105" dy="14.7"># Exception()</tspan><tspan x="1105" dy="14.7"># operator=()</tspan><tspan x="1105" dy="14.7"># Exception()</tspan></text>
</g>
<g id="operationdetails">
<rect class="b" x="1297" y="3769" width="195" height="384"/><line class="sb" x1="1297" y1="3794" x2="1492" y2="3794"/><line class="sb" x1="1297" y1="3820" x2="1492" y2="3820"/>
<text class="m" x="1394" y="3786">TAO_Operation_Details</text>
<text x="1308" y="3835">+ TAO_Operation_Details()<tspan x="1308" dy="14.7">+ opname()</tspan><tspan x="1308" dy="14.7">+ opname_len()</tspan><tspan x="1308" dy="14.7">+ argument_flag()</tspan><tspan x="1308" dy="14.7">+ response_flags()</tspan><tspan x="1308" dy="14.7">+ response_flags()</tspan><tspan x="1308" dy="14.7">+ request_service_info()</tspan><tspan x="1308" dy="14.7">+ request_service_info()</tspan><tspan x="1308" dy="14.7">+ reply_service_info()</tspan><tspan x="1308" dy="14.7">+ reply_service_info()</tspan><tspan x="1308" dy="14.7">and 12 more...</tspan><tspan x="1308" dy="14.7">* opname_</tspan><tspan x="1308" dy="14.7">* opname_len_</tspan><tspan x="1308" dy="14.7">* request_id_</tspan><tspan x="1308" dy="14.7">* response_flags_</tspan><tspan x="1308" dy="14.7">* request_service_info_</tspan><tspan x="1308" dy="14.7">* reply_service_info_</tspan><tspan x="1308" dy="14.7">* addressing_mode_</tspan><tspan x="1308" dy="14.7">* num_args_</tspan><tspan x="1308" dy="14.7">* ex_count_</tspan><tspan x="1308" dy="14.7">* use_stub_args_</tspan><tspan x="1308" dy="14.7">and 19 more...</tspan></text>
</g>
<g id="serverrequest">
<rect class="g" x="1179" y="4220" width="195" height="530"/><line class="sb" x1="1179" y1="4245" x2="1374" y2="4245"/><line class="sb" x1="1179" y1="4417" x2="1374" y2="4417"/>
<text class="m" x="1276" y="4237">TAO_ServerRequest</text>
<text x="1190" y="4261">- operation_<tspan x="1190" dy="14.6">- operation_len_</tspan><tspan x="1190" dy="14.6">- release_operation_</tspan><tspan x="1190" dy="14.6">- is_forwarded_</tspan><tspan x="1190" dy="14.6">- response_expected_</tspan><tspan x="1190" dy="14.6">- deferred_reply_</tspan><tspan x="1190" dy="14.6">- sync_with_server_</tspan><tspan x="1190" dy="14.6">- is_dsi_</tspan><tspan x="1190" dy="14.6">- reply_status_</tspan><tspan x="1190" dy="14.6">- request_service_context_</tspan><tspan x="1190" dy="14.6">and 10 more...</tspan></text>
<text x="1190" y="4432">+ TAO_ServerRequest()<tspan x="1190" dy="14.7">+ TAO_ServerRequest()</tspan><tspan x="1190" dy="14.7">+ TAO_ServerRequest()</tspan><tspan x="1190" dy="14.7">+ ~TAO_ServerRequest()</tspan><tspan x="1190" dy="14.7">+ orb()</tspan><tspan x="1190" dy="14.7">+ orb_core()</tspan><tspan x="1190" dy="14.7">+ init_reply()</tspan><tspan x="1190" dy="14.7">+ incoming()</tspan><tspan x="1190" dy="14.7">+ outgoing()</tspan><tspan x="1190" dy="14.7">+ response_expected()</tspan><tspan x="1190" dy="14.7">and 37 more...</tspan><tspan x="1190" dy="14.7">+ operation()</tspan><tspan x="1190" dy="14.7">+ operation()</tspan><tspan x="1190" dy="14.7">+ operation_length()</tspan><tspan x="1190" dy="14.7">+ request_id()</tspan><tspan x="1190" dy="14.7">+ request_id()</tspan><tspan x="1190" dy="14.7">- TAO_ServerRequest()</tspan><tspan x="1190" dy="14.7">* operation()</tspan><tspan x="1190" dy="14.7">* operation()</tspan><tspan x="1190" dy="14.7">* operation_length()</tspan><tspan x="1190" dy="14.7">* request_id()</tspan><tspan x="1190" dy="14.7">* request_id()</tspan></text>
</g>
</svg>
